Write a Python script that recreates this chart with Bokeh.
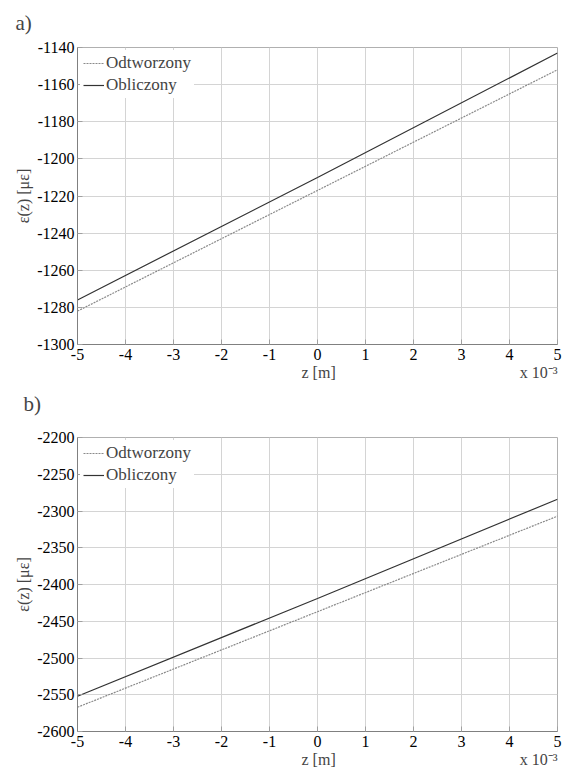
from bokeh.plotting import figure
from bokeh.layouts import column
from bokeh.models import FixedTicker, CustomJSTickFormatter, Range1d, Legend, LegendItem, Title
from bokeh.embed import file_html
from bokeh.resources import INLINE

# data (z in metres)
z = [-0.005, 0.0, 0.005]
a_odtworzony = [-1282, -1217, -1152]
a_obliczony = [-1276, -1210, -1143]
b_odtworzony = [-2567, -2437, -2307]
b_obliczony = [-2552, -2419, -2284]

x_ticks = [-0.005, -0.004, -0.003, -0.002, -0.001, 0.0, 0.001, 0.002, 0.003, 0.004, 0.005]
a_yticks = [-1300, -1280, -1260, -1240, -1220, -1200, -1180, -1160, -1140]
b_yticks = [-2600, -2550, -2500, -2450, -2400, -2350, -2300, -2250, -2200]

FONT = "Liberation Serif"
NB = "\u00a0"


def style_title(t, offset, standoff, valign):
    t.text_font = FONT
    t.text_font_style = "normal"
    t.text_font_size = "21px"
    t.align = "left"
    t.vertical_align = valign
    t.offset = offset
    t.standoff = standoff


def make_plot(odt, obl, yticks, top, bottom, height, title):
    p = figure(width=564, height=height, output_backend="svg", toolbar_location=None,
               min_border_left=77, min_border_right=7, min_border_top=top,
               min_border_bottom=bottom, title=title,
               x_range=Range1d(-0.005, 0.005), y_range=Range1d(yticks[0], yticks[-1]))
    p.outline_line_color = "#b0b0b0"
    p.background_fill_color = "white"

    r1 = p.line(z, odt, line_color="#8a8a8a", line_width=1.2, line_dash="2 1")
    r2 = p.line(z, obl, line_color="#333333", line_width=1.2)

    p.xaxis.ticker = FixedTicker(ticks=x_ticks)
    p.xaxis.formatter = CustomJSTickFormatter(code="return (tick*1000).toFixed(0);")
    p.yaxis.ticker = FixedTicker(ticks=yticks)
    p.yaxis.formatter = CustomJSTickFormatter(code="return tick.toFixed(0);")
    for ax in (p.xaxis[0], p.yaxis[0]):
        ax.major_label_text_font = FONT
        ax.major_label_text_font_size = "16px"
        ax.major_label_text_color = "black"
        ax.axis_label_text_font = FONT
        ax.axis_label_text_font_size = "16px"
        ax.axis_label_text_font_style = "normal"
        ax.axis_line_color = "#808080"
        ax.major_tick_line_color = "#a0a0a0"
        ax.major_tick_in = 5
        ax.major_tick_out = 0
        ax.minor_tick_line_color = None
    # axis label carries both "z [m]" (centred) and the "x 10^-3" multiplier (right)
    p.xaxis.axis_label = NB * 56 + "z [m]" + NB * 46 + "x 10\u207b\u00b3"
    p.xaxis.major_label_standoff = 4
    p.xaxis.axis_label_standoff = 1
    p.yaxis.axis_label = "ε(z) [με]"
    p.yaxis.major_label_standoff = 3
    p.yaxis.axis_label_standoff = 2

    p.grid.grid_line_color = "#d4d4d4"
    p.grid.grid_line_width = 1

    legend = Legend(items=[LegendItem(label="Odtworzony", renderers=[r1]),
                           LegendItem(label="Obliczony", renderers=[r2])],
                    location="top_left")
    legend.label_text_font = FONT
    legend.label_text_font_size = "17px"
    legend.border_line_alpha = 0
    legend.background_fill_color = "white"
    legend.background_fill_alpha = 1.0
    legend.glyph_width = 21
    legend.glyph_height = 20
    legend.label_height = 20
    legend.label_standoff = 2
    legend.spacing = 2
    legend.padding = 3
    legend.margin = 3
    p.add_layout(legend)
    return p


pa = make_plot(a_odtworzony, a_obliczony, a_yticks, 46, 79, 423, "a)")
style_title(pa.title, -62, 21, "top")
tb = Title(text="b)")
style_title(tb, -54, 12, "bottom")
pa.add_layout(tb, "below")

pb = make_plot(b_odtworzony, b_obliczony, b_yticks, 14, 37, 347, None)

layout = column(pa, pb, spacing=0)
open("out.html", "w").write(file_html(layout, INLINE))
